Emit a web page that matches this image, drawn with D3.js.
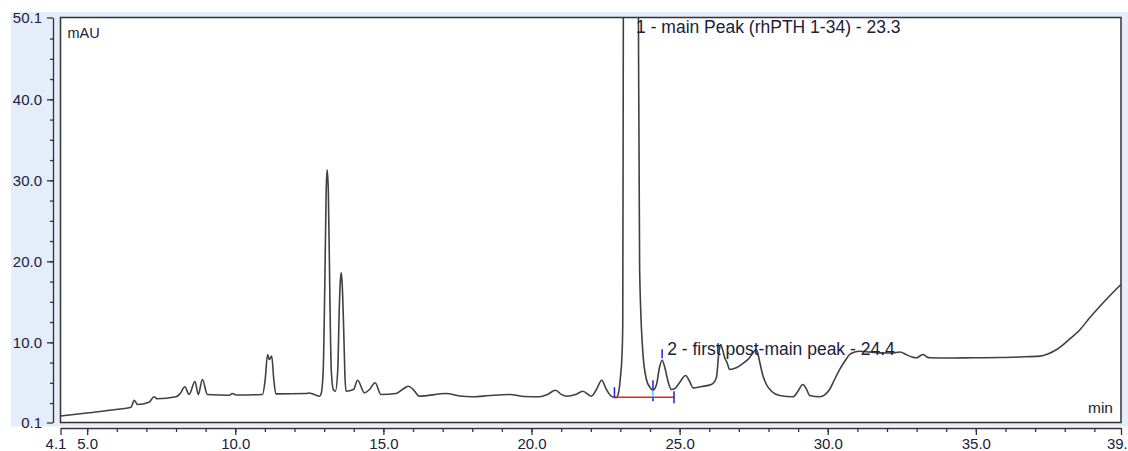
<!DOCTYPE html>
<html>
<head>
<meta charset="utf-8">
<script src="https://cdn.jsdelivr.net/npm/d3@7"></script>
<style>
    body { margin: 0; background: #fff; }
    svg { display: block; font-family: "Liberation Sans", Arial, sans-serif; }
</style>
</head>
<body>
<div id="chart"></div>
<script>
// chromatogram trace (min / mAU)
const timeMin = [
    4.10, 5.07, 5.97, 6.48, 6.59, 6.70, 7.09, 7.26, 7.37, 8.00,
    8.14, 8.30, 8.44, 8.64, 8.75, 8.89, 9.06, 9.80, 9.90, 10.03,
    10.92, 11.01, 11.09, 11.15, 11.23, 11.30, 11.37, 12.39, 12.50, 12.84,
    12.90, 12.97, 13.02, 13.07, 13.10, 13.14, 13.19, 13.24, 13.31, 13.38,
    13.46, 13.51, 13.55, 13.58, 13.61, 13.66, 13.70, 13.74, 13.99, 14.13,
    14.36, 14.53, 14.72, 14.92, 15.43, 15.64, 15.84, 16.01, 16.21, 17.12,
    17.57, 18.02, 18.58, 19.26, 19.76, 20.27, 20.54, 20.81, 21.01, 21.17,
    21.49, 21.73, 22.02, 22.19, 22.37, 22.53, 22.69, 22.86, 22.94, 23.01,
    23.05, 23.08, 23.10, 23.16, 23.25, 23.36, 23.47, 23.56, 23.61, 23.65,
    23.76, 23.88, 23.99, 24.10, 24.22, 24.32, 24.41, 24.50, 24.61, 24.72,
    24.83, 25.00, 25.20, 25.34, 25.45, 25.74, 26.07, 26.24, 26.32, 26.38,
    26.45, 26.52, 26.60, 26.69, 26.91, 27.13, 27.36, 27.46, 27.59, 27.70,
    27.80, 27.93, 28.11, 28.38, 28.83, 28.99, 29.16, 29.29, 29.39, 29.73,
    29.90, 30.06, 30.23, 30.40, 30.57, 30.74, 30.91, 31.08, 31.42, 31.76,
    32.17, 32.44, 32.64, 32.84, 33.00, 33.11, 33.22, 33.35, 33.45, 34.12,
    34.91, 35.81, 36.49, 37.16, 37.43, 37.73, 38.11, 38.52, 38.85, 39.19,
    39.53, 39.90
];
const signalMAU = [
    0.90, 1.30, 1.70, 1.99, 2.85, 2.32, 2.61, 3.27, 3.03, 3.27,
    3.68, 4.51, 3.56, 5.16, 3.56, 5.41, 3.56, 3.47, 3.68, 3.50,
    3.56, 5.41, 8.50, 7.88, 8.29, 5.41, 3.64, 3.68, 3.74, 3.35,
    3.68, 6.64, 16.5, 28.9, 31.3, 28.9, 16.5, 6.64, 4.17, 3.96,
    6.64, 14.05, 17.75, 18.58, 17.14, 11.58, 6.03, 3.96, 4.17, 5.32,
    3.77, 4.17, 5.00, 3.56, 3.68, 4.17, 4.58, 4.17, 3.35, 3.68,
    3.37, 3.27, 3.43, 3.56, 3.31, 3.27, 3.56, 4.09, 3.56, 3.35,
    3.56, 3.96, 3.35, 4.17, 5.32, 4.17, 3.35, 3.15, 3.80, 6.03,
    8.00, 12.0, 50.0, 110, 200, 240, 200, 110, 50.0, 19.0,
    8.70, 5.41, 4.48, 4.09, 4.79, 6.89, 7.79, 6.89, 5.16, 4.17,
    4.26, 5.04, 5.90, 5.16, 4.38, 4.54, 4.79, 5.62, 8.50, 9.73,
    9.11, 8.12, 7.51, 6.64, 6.85, 7.38, 8.09, 8.62, 9.11, 7.63,
    6.03, 4.79, 3.93, 3.43, 3.27, 3.93, 4.79, 4.17, 3.43, 3.27,
    3.50, 4.17, 5.41, 6.64, 7.63, 8.49, 8.80, 8.90, 8.80, 8.70,
    8.68, 8.80, 8.50, 8.19, 8.09, 8.31, 8.49, 8.19, 8.09, 8.06,
    8.09, 8.12, 8.19, 8.29, 8.56, 9.11, 10.22, 11.58, 13.06, 14.46,
    15.78, 17.14
];

// axis ticks
const xMajorTicks = [4.1, 5, 10, 15, 20, 25, 30, 35, 39.9];
const xMinorTicks = d3.range(5, 40, 1);
const yMajorTicks = [0.1, 10, 20, 30, 40, 50.1];
const yMinorTicks = d3.range(2.5, 50, 2.5);

// integrated peaks
const peakNames = ["1 - main Peak (rhPTH 1-34) - 23.3", "2 - first post-main peak - 24.4"];
const peakApexTime = [23.36, 24.41];
const peakApexMAU = [240, 7.79];
const peakBounds = [22.80, 24.10, 24.81];   // start, valley, end
const integrationBaseline = 3.22;

const W = 1128, H = 451;
const frame = {left: 60.5, right: 1121, top: 17.5, bottom: 422.5};

const svg = d3.select("#chart").append("svg")
    .attr("width", W)
    .attr("height", H);

// light blue panel behind the plot
svg.append("rect")
    .attr("x", 11).attr("y", 12)
    .attr("width", W - 11).attr("height", frame.bottom + 4 - 12)
    .attr("fill", "#e4edf9");

svg.append("rect")
    .attr("x", frame.left).attr("y", frame.top)
    .attr("width", frame.right - frame.left)
    .attr("height", frame.bottom - frame.top)
    .attr("fill", "#fff");

const x = d3.scaleLinear().domain([4.1, 39.9]).range([frame.left, frame.right]);
const y = d3.scaleLinear().domain([0.1, 50.1]).range([frame.bottom, frame.top]);

svg.append("clipPath").attr("id", "plotClip")
    .append("rect")
    .attr("x", frame.left).attr("y", frame.top)
    .attr("width", frame.right - frame.left)
    .attr("height", frame.bottom - frame.top);

// trace
const trace = timeMin.map((t, i) => [t, signalMAU[i]]);
const line = d3.line()
    .x(d => x(d[0]))
    .y(d => y(d[1]))
    .curve(d3.curveMonotoneX);

svg.append("path")
    .datum(trace)
    .attr("clip-path", "url(#plotClip)")
    .attr("fill", "none")
    .attr("stroke", "#404040")
    .attr("stroke-width", 1.6)
    .attr("stroke-linejoin", "round")
    .attr("d", line);

// integration marks
const yb = y(integrationBaseline);
svg.append("line")
    .attr("x1", x(peakBounds[0])).attr("x2", x(peakBounds[2]))
    .attr("y1", yb).attr("y2", yb)
    .attr("stroke", "#ff1a1a").attr("stroke-width", 1.5);

// start mark
svg.append("line")
    .attr("x1", x(peakBounds[0])).attr("x2", x(peakBounds[0]))
    .attr("y1", yb - 10).attr("y2", yb)
    .attr("stroke", "#1f1fe0").attr("stroke-width", 1.5);

// valley drop line
const valleyY = y(4.09);
svg.append("line")
    .attr("x1", x(peakBounds[1])).attr("x2", x(peakBounds[1]))
    .attr("y1", valleyY).attr("y2", yb)
    .attr("stroke", "#30dede").attr("stroke-width", 1.5);
svg.append("line")
    .attr("x1", x(peakBounds[1])).attr("x2", x(peakBounds[1]))
    .attr("y1", valleyY - 10).attr("y2", valleyY)
    .attr("stroke", "#1f1fe0").attr("stroke-width", 1.5);
svg.append("line")
    .attr("x1", x(peakBounds[1])).attr("x2", x(peakBounds[1]))
    .attr("y1", yb).attr("y2", yb + 4)
    .attr("stroke", "#1f1fe0").attr("stroke-width", 1.5);

// end mark
svg.append("line")
    .attr("x1", x(peakBounds[2])).attr("x2", x(peakBounds[2]))
    .attr("y1", yb - 6).attr("y2", yb + 6)
    .attr("stroke", "#1f1fe0").attr("stroke-width", 1.5);

// peak 2 apex mark
svg.append("line")
    .attr("x1", x(peakApexTime[1])).attr("x2", x(peakApexTime[1]))
    .attr("y1", y(peakApexMAU[1]) - 11).attr("y2", y(peakApexMAU[1]) - 2)
    .attr("stroke", "#1f1fe0").attr("stroke-width", 1.5);

// peak labels
svg.selectAll("text.peak-label")
    .data(peakNames)
    .enter().append("text")
    .attr("class", "peak-label")
    .attr("x", (d, i) => x(peakApexTime[i]) + 5)
    .attr("y", (d, i) => peakApexMAU[i] > 50.1 ? frame.top + 15.5 : y(peakApexMAU[i]) - 5)
    .style("font-size", "17.5px")
    .style("fill", "#20203a")
    .text(d => d);

// frame
svg.append("rect")
    .attr("x", frame.left).attr("y", frame.top)
    .attr("width", frame.right - frame.left)
    .attr("height", frame.bottom - frame.top)
    .attr("fill", "none")
    .attr("stroke", "#333")
    .attr("stroke-width", 1.5);

// y axis
const yAxisX = 53;
svg.append("g")
    .attr("transform", `translate(${yAxisX},0)`)
    .call(d3.axisLeft(y).tickValues(yMinorTicks).tickSize(3).tickSizeOuter(0).tickFormat(""))
    .call(g => g.select(".domain").remove());
svg.append("g")
    .attr("class", "y-major")
    .attr("transform", `translate(${yAxisX},0)`)
    .call(d3.axisLeft(y).tickValues(yMajorTicks).tickSize(6).tickSizeOuter(0)
        .tickPadding(5).tickFormat(d3.format(".1f")));

// x axis
const xAxisY = 428;
svg.append("g")
    .attr("transform", `translate(0,${xAxisY})`)
    .call(d3.axisBottom(x).tickValues(xMinorTicks).tickSize(4).tickSizeOuter(0).tickFormat(""))
    .call(g => g.select(".domain").remove());
svg.append("g")
    .attr("class", "x-major")
    .attr("transform", `translate(0,${xAxisY})`)
    .call(d3.axisBottom(x).tickValues(xMajorTicks).tickSize(7).tickSizeOuter(0)
        .tickPadding(3).tickFormat(d3.format(".1f")));

svg.selectAll(".tick line, .domain")
    .attr("stroke", "#333")
    .attr("stroke-width", 1.3);
svg.selectAll(".y-major text, .x-major text")
    .style("font-size", "15px")
    .style("font-family", '"Liberation Sans", Arial, sans-serif')
    .style("fill", "#20203a");
// first x label is pushed left so it clears 5.0
svg.selectAll(".x-major .tick text").filter(d => d === 4.1).attr("dx", -5);

// unit labels
svg.append("text")
    .attr("x", frame.left + 7).attr("y", frame.top + 20.5)
    .style("font-size", "14.5px").style("fill", "#20203a")
    .text("mAU");
svg.append("text")
    .attr("x", frame.right - 8).attr("y", frame.bottom - 9.5)
    .attr("text-anchor", "end")
    .style("font-size", "15.5px").style("fill", "#20203a")
    .text("min");
</script>
</body>
</html>
